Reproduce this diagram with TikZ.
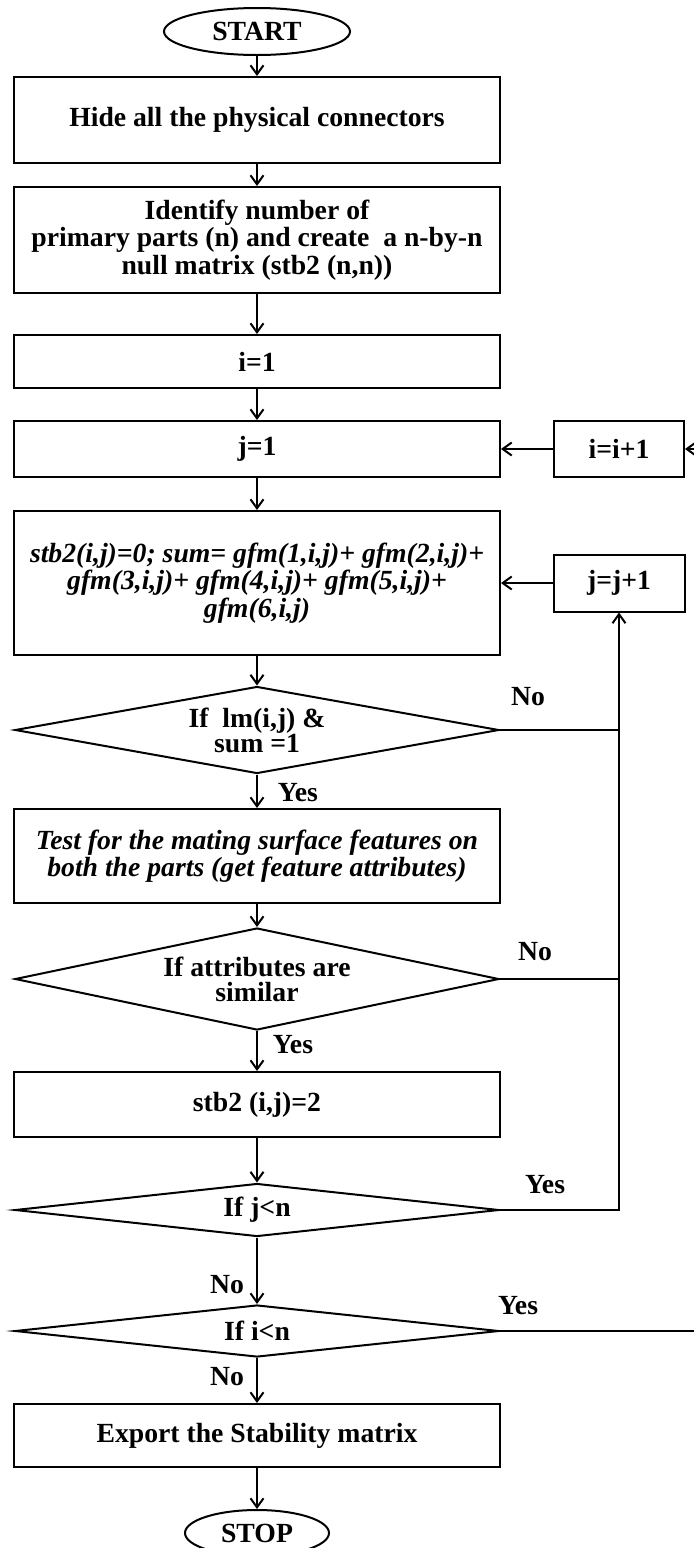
\documentclass[tikz,border=0pt]{standalone}
\usepackage{fontspec}
\setmainfont{Liberation Serif}
\usetikzlibrary{shapes.geometric,arrows.meta}
% one drawing unit = 0.5pt
\newlength{\upx}\setlength{\upx}{0.5pt}
\begin{document}
\begin{tikzpicture}[x=\upx, y=-\upx,
  every node/.style={font=\fontsize{13.85pt}{12.5pt}\selectfont\bfseries, align=center},
  slanted/.style={font=\fontsize{13.85pt}{12.5pt}\selectfont\bfseries\itshape},
  procbox/.style={draw, rectangle, line width=1pt, minimum width=486\upx, inner sep=0pt},
  sidebox/.style={draw, rectangle, line width=1pt, inner sep=0pt},
  terminal/.style={draw, ellipse, line width=1pt, inner sep=0pt},
  decide/.style={draw, diamond, line width=1pt, inner sep=0pt, minimum width=484\upx},
  flow/.style={line width=1pt, -{Straight Barb[length=4.5pt,width=6.5pt]}},
  link/.style={line width=1pt}]
\useasboundingbox (0,0) rectangle (693,1548);

% main column
\node[terminal, minimum width=186\upx, minimum height=47\upx] (start) at (257,31.5) {START};
\node[procbox, minimum height=86\upx] (hide) at (257,120) {Hide all the physical connectors};
\node[procbox, minimum height=106\upx] (ident) at (257,240) {Identify number of\\primary parts (n) and create\ \ a n-by-n\\null matrix (stb2 (n,n))};
\node[procbox, minimum height=53\upx] (iinit) at (257,361.5) {i=1};
\node[procbox, minimum height=56\upx] (jinit) at (257,449) {j=1};
\node[procbox, slanted, minimum height=144\upx] (sum) at (257,583) {stb2(i,j)=0; sum= gfm(1,i,j)+ gfm(2,i,j)+\\gfm(3,i,j)+ gfm(4,i,j)+ gfm(5,i,j)+\\gfm(6,i,j)};
\node[decide, minimum height=87\upx, aspect=5.5] (test1) at (257,730) {If\ \ lm(i,j) \&\\sum =1};
\node[procbox, slanted, minimum height=94\upx] (mate) at (257,856) {Test for the mating surface features on\\both the parts (get feature attributes)};
\node[decide, minimum height=102\upx, aspect=4.7] (test2) at (257,979) {If attributes are\\similar};
\node[procbox, minimum height=65\upx] (setv) at (257,1104.5) {stb2 (i,j)=2};
\node[decide, minimum height=53\upx, aspect=9] (jtest) at (257,1210) {If j<n};
\node[decide, minimum height=52\upx, aspect=9] (itest) at (257,1331) {If i<n};
\node[procbox, minimum height=63\upx] (export) at (257,1435.5) {Export the Stability matrix};
\node[terminal, minimum width=144\upx, minimum height=46\upx] (stop) at (257,1533) {STOP};

% counters on the right
\node[sidebox, minimum width=130\upx, minimum height=56\upx] (iinc) at (619,449) {i=i+1};
\node[sidebox, minimum width=131\upx, minimum height=57\upx] (jinc) at (619,583) {j=j+1};

% main flow
\draw[flow] (start) -- (hide);
\draw[flow] (hide) -- (ident);
\draw[flow] (ident) -- (iinit);
\draw[flow] (iinit) -- (jinit);
\draw[flow] (jinit) -- (sum);
\draw[flow] (sum) -- (test1);
\draw[flow] (test1) -- (mate);
\draw[flow] (mate) -- (test2);
\draw[flow] (test2) -- (setv);
\draw[flow] (setv) -- (jtest);
\draw[flow] (jtest) -- (itest);
\draw[flow] (itest) -- (export);
\draw[flow] (export) -- (stop);

% loops
\draw[flow] (iinc) -- (jinit);
\draw[flow] (jinc) -- (sum);
\coordinate (jloop) at (619,1210);
\coordinate (iloop) at (697,1331);
\draw[link] (test1.east) -- (test1.east -| jinc);
\draw[link] (test2.east) -- (test2.east -| jinc);
\draw[flow] (jtest.east) -- (jloop) -- (jinc.south);
\draw[flow] (itest.east) -- (iloop) |- (iinc.east);

% branch labels
\node (no1) at (528,697) {No};
\node (no2) at (535,952) {No};
\node (yes3) at (545,1185) {Yes};
\node (yes4) at (518,1306) {Yes};
\node (yes1) at (298,793) {Yes};
\node (yes2) at (293,1045) {Yes};
\node (no3) at (227,1285) {No};
\node (no4) at (227,1377) {No};
\end{tikzpicture}
\end{document}
